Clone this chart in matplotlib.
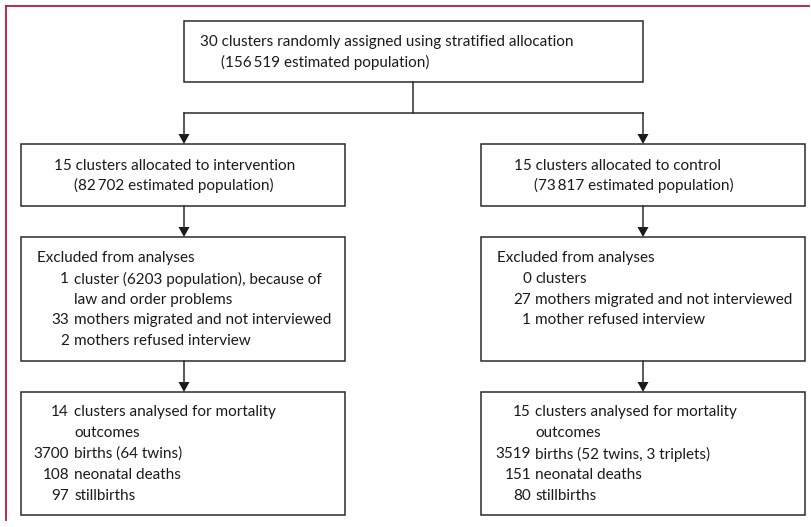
import matplotlib
matplotlib.use("Agg")
import matplotlib.pyplot as plt
from matplotlib.patches import Rectangle, Polygon

# Box contents: (number, text) rows; number "" means header / continuation line
top_lines = ["30 clusters randomly assigned using stratified allocation",
             "(156\u2009519 estimated population)"]
arm_names = ["intervention", "control"]
arm_population = ["82\u2009702", "73\u2009817"]
excluded_rows = [
    [("1", "cluster (6203 population), because of"),
     ("", "law and order problems"),
     ("33", "mothers migrated and not interviewed"),
     ("2", "mothers refused interview")],
    [("0", "clusters"),
     ("27", "mothers migrated and not interviewed"),
     ("1", "mother refused interview")],
]
clusters_analysed = ["14", "15"]
births = ["3700", "3519"]
births_detail = ["(64 twins)", "(52 twins, 3 triplets)"]
neonatal_deaths = ["108", "151"]
stillbirths = ["97", "80"]

W, H = 811, 527
EDGE = "#2b2b2b"
RED = "#c0163c"
FONT = ["Lato", "DejaVu Sans"]
FS = 11

fig = plt.figure(figsize=(W / 100, H / 100), dpi=100)
ax = fig.add_axes([0, 0, 1, 1])
ax.set_xlim(0, W)
ax.set_ylim(H, 0)
ax.axis("off")


def box(x0, y0, x1, y1):
    ax.add_patch(Rectangle((x0, y0), x1 - x0, y1 - y0, fill=False,
                           edgecolor=EDGE, linewidth=1.1))


def arrow(x, y0, y1):
    ax.plot([x, x], [y0, y1 - 9], color=EDGE, linewidth=1.1)
    ax.add_patch(Polygon([(x - 5.5, y1 - 10), (x + 5.5, y1 - 10), (x, y1)],
                         closed=True, color="#1a1a1a", linewidth=0))


def txt(x, y, s, ha="left"):
    ax.text(x, y, s, ha=ha, va="center", fontsize=FS, family=FONT, color="#1a1a1a")


# red frame (top and left rules)
ax.plot([6, 809], [6, 6], color=RED, linewidth=1.3)
ax.plot([6, 6], [6, 520], color=RED, linewidth=1.3)

# top box
box(184, 21, 643, 82)
txt(200, 42, top_lines[0])
txt(221, 62, top_lines[1])

# split connector
ax.plot([413, 413], [82, 113], color=EDGE, linewidth=1.1)
ax.plot([184, 643], [113, 113], color=EDGE, linewidth=1.1)

cols = [dict(x0=21, x1=345, cx=184, num=69, gap=5),
        dict(x0=481, x1=805, cx=643, num=531, gap=4)]

for i, c in enumerate(cols):
    x0, x1, cx = c["x0"], c["x1"], c["cx"]
    nx, tx = c["num"], c["num"] + c["gap"]

    arrow(cx, 113, 144)
    box(x0, 144, x1, 206)
    txt(x0 + 33, 166, f"15 clusters allocated to {arm_names[i]}")
    txt(x0 + 53, 185, f"({arm_population[i]} estimated population)")

    arrow(cx, 206, 237)
    box(x0, 237, x1, 361)
    txt(x0 + 16, 258, "Excluded from analyses")
    for k, (n, s) in enumerate(excluded_rows[i]):
        y = 279 + k * 20.6
        if n:
            txt(nx, y, n, ha="right")
        txt(tx, y, s)

    arrow(cx, 361, 392)
    box(x0, 392, x1, 515)
    rows = [(clusters_analysed[i], "clusters analysed for mortality"),
            ("", "outcomes"),
            (births[i], f"births {births_detail[i]}"),
            (neonatal_deaths[i], "neonatal deaths"),
            (stillbirths[i], "stillbirths")]
    for k, (n, s) in enumerate(rows):
        y = 412 + k * 21
        if n:
            txt(nx, y, n, ha="right")
        txt(tx, y, s)

fig.savefig("out.png", dpi=100)
plt.close(fig)
